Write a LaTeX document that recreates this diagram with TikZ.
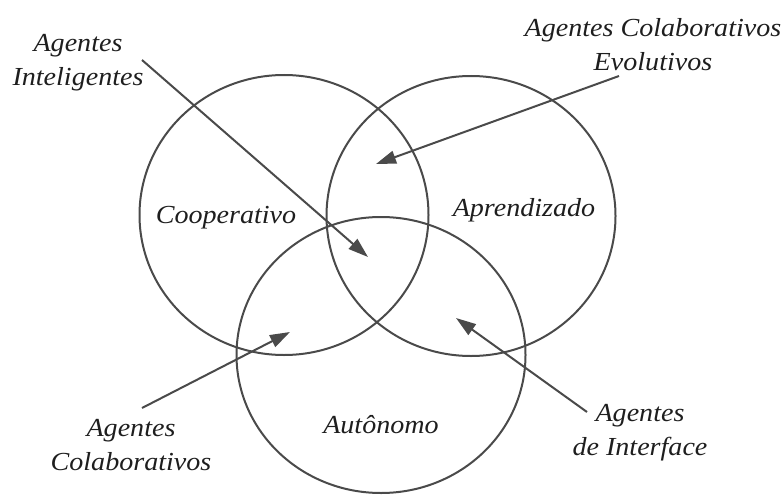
\documentclass[tikz,border=0pt]{standalone}
\usepackage{fontspec}
\setmainfont{Liberation Serif}[FakeStretch=1.08]
\usetikzlibrary{arrows.meta,shapes.geometric}
\definecolor{ink}{HTML}{4A4A4A}
\definecolor{txt}{HTML}{1E1E1E}
\begin{document}
\begin{tikzpicture}[x=1pt,y=-1pt,
  ring/.style={ellipse, draw=ink, line width=2pt, minimum width=289pt, minimum height=280pt, inner sep=0pt},
  lbl/.style={font=\fontsize{26}{34}\selectfont\itshape, text=txt, align=center, inner sep=0pt},
  pointer/.style={draw=ink, line width=2pt, -{Triangle[length=20pt,width=13pt]}}]
  \useasboundingbox (0,0) rectangle (784,495);
  % the three overlapping properties
  \node[ring] (coop) at (284,215) {};
  \node[ring] (learn) at (471,216) {};
  \node[ring, minimum height=276pt] (auto) at (381,355) {};
  \node[lbl] (tcoop) at (226,218) {Cooperativo};
  \node[lbl] (tlearn) at (524,210) {Aprendizado};
  \node[lbl] (tauto) at (381,425) {Autônomo};
  % agent types pointing into the overlaps
  \node[lbl] (intel) at (78,63) {Agentes\\Inteligentes};
  \node[lbl] (evol) at (653,45) {Agentes Colaborativos\\Evolutivos};
  \node[lbl] (colab) at (131,445) {Agentes\\Colaborativos};
  \node[lbl] (iface) at (640,433) {Agentes\\de Interface};
  \coordinate (intelS) at (142,60);
  \coordinate (intelT) at (368,257);
  \coordinate (evolS) at (619,76);
  \coordinate (evolT) at (376,164);
  \coordinate (colabS) at (142,408);
  \coordinate (colabT) at (290,332);
  \coordinate (ifaceS) at (587,412);
  \coordinate (ifaceT) at (456,318);
  \draw[pointer] (intelS) -- (intelT);
  \draw[pointer] (evolS) -- (evolT);
  \draw[pointer] (colabS) -- (colabT);
  \draw[pointer] (ifaceS) -- (ifaceT);
\end{tikzpicture}
\end{document}
